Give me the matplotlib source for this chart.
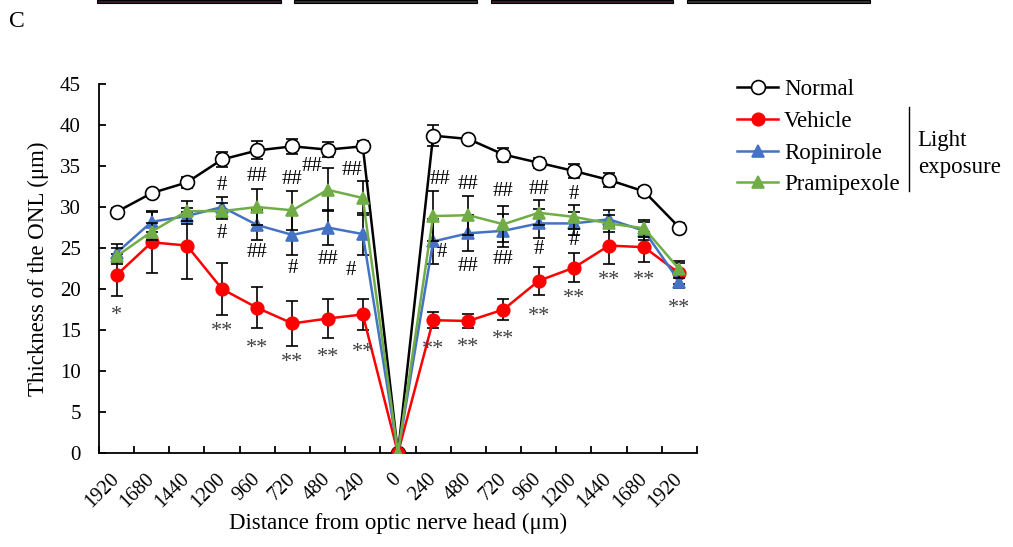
import numpy as np
import matplotlib
matplotlib.use('Agg')
import matplotlib.pyplot as plt
from matplotlib.lines import Line2D
from matplotlib.patches import Rectangle

plt.rcParams['font.family'] = ['Liberation Serif', 'DejaVu Serif']

# distances from optic nerve head (um)
dist = ['1920', '1680', '1440', '1200', '960', '720', '480', '240', '0',
        '240', '480', '720', '960', '1200', '1440', '1680', '1920']

normal = [29.4, 31.7, 33.0, 35.8, 36.9, 37.4, 37.0, 37.4, 0,
          38.7, 38.3, 36.4, 35.4, 34.4, 33.3, 31.9, 27.5]
normal_err = [0.5, 0.3, 0.7, 0.9, 1.1, 0.95, 0.95, 0.6, 0,
              1.3, 0.4, 0.85, 0.6, 0.9, 0.8, 0.6, 0.6]

vehicle = [21.7, 25.7, 25.3, 20.0, 17.7, 15.8, 16.4, 16.9, 0,
           16.2, 16.1, 17.5, 21.0, 22.6, 25.3, 25.1, 21.9]
vehicle_err = [2.6, 3.8, 4.1, 3.2, 2.5, 2.7, 2.4, 1.9, 0,
               1.0, 0.9, 1.3, 1.7, 1.75, 2.3, 1.8, 1.3]

ropinirole = [24.4, 28.2, 28.9, 30.0, 27.8, 26.6, 27.5, 26.7, 0,
              25.8, 26.8, 27.1, 28.0, 28.0, 28.5, 27.1, 20.9]
ropinirole_err = [1.05, 1.2, 1.0, 1.2, 1.8, 2.4, 2.1, 2.6, 0,
                  2.7, 2.2, 2.0, 1.8, 1.4, 1.1, 1.1, 0.8]

pramipexole = [24.0, 27.0, 29.5, 29.5, 30.0, 29.6, 32.1, 31.1, 0,
               28.9, 29.0, 27.9, 29.3, 28.8, 28.0, 27.4, 22.4]
pramipexole_err = [1.0, 1.0, 1.2, 1.0, 2.2, 2.4, 2.6, 2.1, 0,
                   3.0, 2.4, 2.2, 1.5, 1.5, 1.0, 1.0, 1.0]

# significance marks vs vehicle (*) and vs vehicle for treatments (#)
star_marks = ['*', '', '', '**', '**', '**', '**', '**', '',
              '**', '**', '**', '**', '**', '**', '**', '**']
hash_upper = ['', '', '', '#', '##', '##', '##', '##', '',
              '##', '##', '##', '##', '#', '', '', '']
hash_lower = ['', '', '', '#', '##', '#', '##', '#', '',
              '#', '##', '##', '#', '#', '', '', '']

# where the marks sit (data units) and small sideways nudges
star_y = [17.4, 0, 0, 15.4, 13.3, 11.6, 12.3, 12.9, 0,
          13.2, 13.5, 14.5, 17.3, 19.4, 21.6, 21.6, 18.2]
upper_y = [0, 0, 0, 32.6, 33.7, 33.3, 34.9, 34.5, 0,
           33.3, 32.7, 31.9, 32.1, 31.5, 0, 0, 0]
upper_dx = [0, 0, 0, 0, 0, 0, -0.45, -0.3, 0, 0.2, 0, 0, 0, 0, 0, 0, 0]
lower_y = [0, 0, 0, 26.8, 24.4, 22.5, 23.6, 22.3, 0,
           24.4, 22.7, 23.6, 24.8, 25.9, 0, 0, 0]
lower_dx = [0, 0, 0, 0, 0, 0, 0, -0.35, 0, 0.25, 0, 0, 0, 0, 0, 0, 0]

x = np.arange(len(dist))

fig = plt.figure(figsize=(10.13, 5.47), dpi=100)
ax = fig.add_axes([0.0977, 0.1718, 0.5903, 0.6746])

series = [
    (normal, normal_err, 'black', 'o', 'white', 'Normal', 10),
    (vehicle, vehicle_err, '#ff0000', 'o', '#ff0000', 'Vehicle', 9),
    (ropinirole, ropinirole_err, '#4472c4', '^', '#4472c4', 'Ropinirole', 9),
    (pramipexole, pramipexole_err, '#70ad47', '^', '#70ad47', 'Pramipexole', 9),
]

handles = []
for k, (vals, errs, col, mk, fc, lab, ms) in enumerate(series):
    vals = np.array(vals)
    errs = np.array(errs)
    m = errs > 0
    ax.errorbar(x[m], vals[m], yerr=errs[m], fmt='none', ecolor='black',
                elinewidth=1.2, capsize=4, capthick=1.2, zorder=2 + k)
    ax.plot(x, vals, color=col, lw=1.8, marker=mk, ms=ms, mfc=fc,
            mec='black' if lab == 'Normal' else col, mew=1.2, zorder=3 + k)
    handles.append(Line2D([], [], color=col, lw=1.8, marker=mk, ms=ms, mfc=fc,
                          mec='black' if lab == 'Normal' else col, mew=1.2,
                          label=lab))

for i in x:
    if star_marks[i]:
        ax.text(i, star_y[i] - 0.6, star_marks[i], ha='center', va='center',
                fontsize=16, color='#404040', zorder=10)
    if hash_upper[i]:
        ax.text(i + upper_dx[i], upper_y[i], hash_upper[i], ha='center',
                va='center', fontsize=15, zorder=10)
    if hash_lower[i]:
        ax.text(i + lower_dx[i], lower_y[i], hash_lower[i], ha='center',
                va='center', fontsize=15, zorder=10)

ax.set_xlim(-0.5, len(dist) - 0.5)
ax.set_ylim(0, 45)
ax.set_yticks(np.arange(0, 46, 5))
ax.set_xticks(x)
ax.set_xticklabels(dist, rotation=45, ha='right', va='center',
                   rotation_mode='anchor')
ax.set_xticks(np.arange(-0.5, len(dist)), minor=True)
ax.tick_params(axis='x', which='major', length=0, pad=17, labelsize=14.5)
ax.tick_params(axis='x', which='minor', direction='in', length=5, width=1.3)
ax.tick_params(axis='y', direction='in', length=5, width=1.3, labelsize=15,
               pad=13)
for s in ['top', 'right']:
    ax.spines[s].set_visible(False)
for s in ['left', 'bottom']:
    ax.spines[s].set_linewidth(1.3)

ax.set_xlabel('Distance from optic nerve head (μm)', fontsize=16.5,
              labelpad=0.5)
ax.set_ylabel('Thickness of the ONL (μm)', fontsize=16.5, labelpad=8)

leg = fig.legend(handles=handles, loc='upper left',
                 bbox_to_anchor=(0.7275, 0.8556), frameon=False,
                 fontsize=16.5, handlelength=1.8, handletextpad=0.25,
                 labelspacing=0.47, borderaxespad=0, borderpad=0)

fig.add_artist(Line2D([0.897, 0.897], [0.651, 0.804], color='black', lw=1.0))
fig.text(0.906, 0.744, 'Light', fontsize=16.5, va='center', ha='left')
fig.text(0.906, 0.693, 'exposure', fontsize=16.5, va='center', ha='left')

fig.text(0.009, 0.9616, 'C', fontsize=17, va='center', ha='left')

# cropped image strips from the panel above
strips = [(97, 281, '#3a1a2c'), (294, 477, '#363336'),
          (491, 673, '#3a1a2c'), (687, 870, '#363336')]
for x0, x1, c in strips:
    fig.add_artist(Rectangle((x0 / 1013, 1 - 3 / 547), (x1 - x0) / 1013,
                             3 / 547, facecolor=c, edgecolor='black',
                             lw=0.8, transform=fig.transFigure))

fig.savefig('out.png', dpi=100)
